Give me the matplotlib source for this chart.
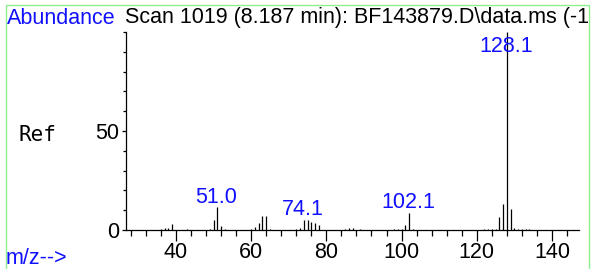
import matplotlib
matplotlib.use("Agg")
import matplotlib.pyplot as plt
from matplotlib.patches import Rectangle
from matplotlib.ticker import MultipleLocator, FixedLocator

# ---- data ----
mz = [36, 37, 38, 39, 43, 49, 50, 51, 52, 53, 60, 61, 62, 63, 64, 65,
      72, 73, 74, 75, 76, 77, 78, 85, 86, 87, 89, 98, 99, 100, 101, 102, 103,
      122, 123, 124, 125, 126, 127, 128, 129, 130, 131, 132, 133, 134]
abundance = [0.5, 1, 1, 3, 0.5, 0.5, 5, 11.5, 2, 0.5, 0.5, 1.5, 3.3, 7, 7, 0.5,
             0.5, 1, 5, 5, 4.2, 3.4, 2.5, 0.5, 0.8, 0.8, 0.5, 0.7, 0.7, 0.7, 2.7, 8.6, 0.5,
             0.5, 0.7, 0.7, 0.7, 6.7, 13.2, 100, 10.6, 1, 0.5, 0.5, 0.5, 0.5]
label_mz = [51.0, 74.1, 102.1, 128.1]
label_y = [13.5, 7.5, 11.0, 90.0]
x_ticks = [40, 60, 80, 100, 120, 140]
y_ticks = [0, 50]
title = "Scan 1019 (8.187 min): BF143879.D\\data.ms (-1"

W, H = 592, 269
fig = plt.figure(figsize=(W / 100, H / 100), dpi=100)
plt.rcParams['font.family'] = ['Liberation Sans', 'DejaVu Sans']

FS = 15.5
ax_l, ax_r, ax_b, ax_t = 126, 579, 230, 32
ax = fig.add_axes([ax_l / W, 1 - ax_b / H, (ax_r - ax_l) / W, (ax_b - ax_t) / H])
ax.set_xlim(26.7, 147.2)
ax.set_ylim(0, 100)

ax.vlines(mz, 0, abundance, colors='black', linewidth=0.9)

blue = '#1010ff'
for m, y in zip(label_mz, label_y):
    ax.text(m - 0.3, y, f"{m:.1f}", color=blue, fontsize=FS,
            ha='center', va='baseline')

for s in ['top', 'right']:
    ax.spines[s].set_visible(False)
for s in ['left', 'bottom']:
    ax.spines[s].set_linewidth(0.9)

ax.xaxis.set_major_locator(FixedLocator(x_ticks))
ax.xaxis.set_minor_locator(MultipleLocator(4))
ax.yaxis.set_major_locator(FixedLocator(y_ticks))
ax.yaxis.set_minor_locator(MultipleLocator(10))
ax.tick_params(axis='x', which='major', length=8, width=0.9, direction='out',
               labelsize=FS, pad=1)
ax.tick_params(axis='x', which='minor', length=4, width=0.9, direction='out')
ax.tick_params(axis='y', which='major', length=3, width=0.9, direction='out',
               labelsize=FS, pad=2)
ax.tick_params(axis='y', which='minor', length=2, width=0.9, direction='out')
ax.patch.set_alpha(0)

fig.text(125 / W, 1 - 18 / H, title, fontsize=FS, color='black',
         ha='left', va='center')
fig.text(7 / W, 1 - 18 / H, "Abundance", fontsize=FS, color=blue,
         ha='left', va='center')
fig.text(6 / W, 1 - 258 / H, "m/z-->", fontsize=FS, color=blue,
         ha='left', va='center')
fig.text(19 / W, 1 - 135 / H, "Ref", fontsize=15, color='black',
         family='DejaVu Sans Mono', ha='left', va='center')

rect = Rectangle((5.5 / W, -0.05), (589 - 5.5) / W, 1.05 - 5.5 / H,
                 transform=fig.transFigure, fill=False, edgecolor='#8fef8f',
                 linewidth=1.0)
fig.patches.append(rect)

fig.savefig("out.png", dpi=100)
